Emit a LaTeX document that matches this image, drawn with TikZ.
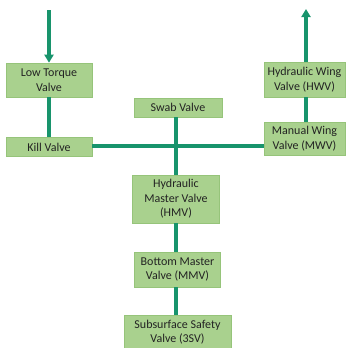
\documentclass[tikz,border=0pt]{standalone}
\usepackage{fontspec}
\setmainfont{Carlito}
\usetikzlibrary{arrows.meta}

\definecolor{boxgreen}{RGB}{169,209,142}
\definecolor{boxedge}{RGB}{150,196,122}
\definecolor{pipe}{RGB}{24,148,108}
\definecolor{textgray}{RGB}{35,35,35}

\tikzset{
  valve/.style={draw=boxedge, fill=boxgreen, line width=0.6pt, align=center,
    text=textgray, font=\fontsize{12}{14.5}\selectfont, inner sep=1pt},
  flow/.style={draw=pipe, line width=3.2pt},
  flowarrow/.style={flow, -{Triangle[width=9pt,length=8pt]}}
}

\begin{document}
\begin{tikzpicture}[x=1pt,y=-1pt]
      \useasboundingbox (0,0) rectangle (351,348);

      \node[valve, minimum width=86, minimum height=34] (lowtorque) at (49,80) {Low Torque\\Valve};
      \node[valve, minimum width=86, minimum height=19] (kill) at (49,147) {Kill Valve};
      \node[valve, minimum width=88, minimum height=19] (swab) at (178,107.5) {Swab Valve};
      \node[valve, minimum width=81, minimum height=35] (hwv) at (304.5,79.5) {Hydraulic Wing\\Valve (HWV)};
      \node[valve, minimum width=81, minimum height=33] (mwv) at (304.5,138.5) {Manual Wing\\Valve (MWV)};
      \node[valve, minimum width=87, minimum height=48] (hmv) at (176,199) {Hydraulic\\Master Valve\\(HMV)};
      \node[valve, minimum width=86, minimum height=35] (mmv) at (177.5,269.5) {Bottom Master\\Valve (MMV)};
      \node[valve, minimum width=107, minimum height=34] (sssv) at (177.5,332) {Subsurface Safety\\Valve (3SV)};

      \coordinate (inlet) at (49,10);
      \coordinate (outlet) at (306,9);
      \coordinate (cross) at (176,146);

      % flow in from the top left
      \draw[flowarrow] (inlet) -- (lowtorque.north);
      \draw[flow] (lowtorque) -- (kill);

      % main bore
      \draw[flow] (swab.south -| cross) -- (hmv.north -| cross);
      \draw[flow] (hmv.south -| cross) -- (mmv.north -| cross);
      \draw[flow] (mmv.south -| cross) -- (sssv.north -| cross);

      % wing side
      \draw[flow] (kill.east |- cross) -- (cross -| mwv.west);
      \draw[flow] (mwv.north -| outlet) -- (hwv.south -| outlet);
      \draw[flowarrow] (hwv.north -| outlet) -- (outlet);
\end{tikzpicture}
\end{document}
